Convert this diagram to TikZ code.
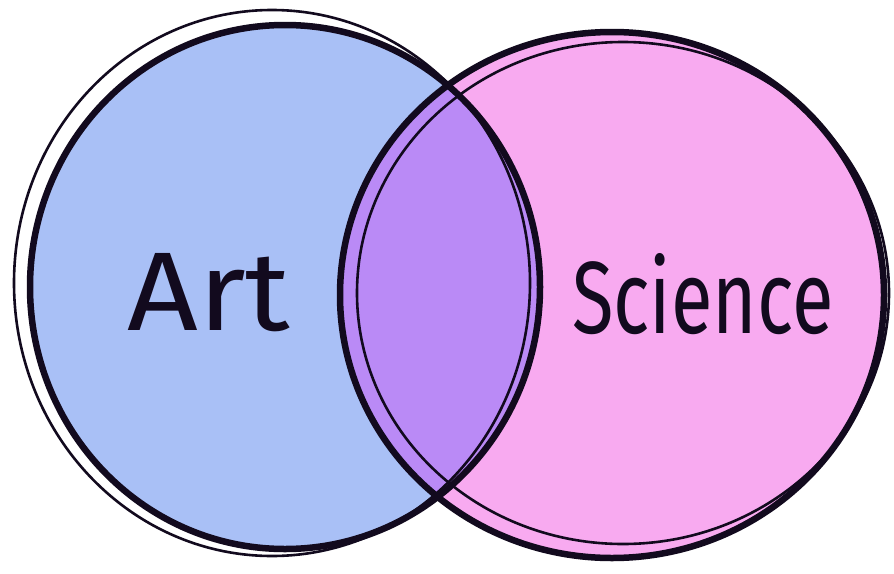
\documentclass[tikz,border=0pt]{standalone}
\usepackage{fontspec}
\setmainfont{Fira Sans}
\definecolor{artblue}{HTML}{A9C0F6}
\definecolor{scipink}{HTML}{F8AAF0}
\definecolor{mixpurple}{HTML}{BA8AF6}
\definecolor{ink}{HTML}{120A1E}
\begin{document}
\begin{tikzpicture}[x=1pt,y=-1pt,
  mainline/.style={draw=ink,line width=6.5pt},
  sketchline/.style={draw=ink,line width=2.6pt},
  lbl/.style={inner sep=0pt,anchor=base west,text=ink}]
\useasboundingbox[fill=white] (0,0) rectangle (894,573);
% fills
\fill[artblue] (285,287) ellipse [x radius=255,y radius=262];
\fill[scipink] (612,295) ellipse [x radius=272,y radius=263];
\begin{scope}
  \clip (285,287) ellipse [x radius=255,y radius=262];
  \fill[mixpurple] (612,295) ellipse [x radius=272,y radius=263];
\end{scope}
% sketchy secondary strokes
\draw[sketchline] (272,283) ellipse [x radius=258,y radius=273];
\draw[sketchline] (623,293) ellipse [x radius=266,y radius=251];
% main strokes
\draw[mainline] (285,287) ellipse [x radius=255,y radius=262];
\draw[mainline] (612,295) ellipse [x radius=272,y radius=263];
% labels
\node[lbl] (art) at (127,330) {\resizebox{163pt}{77pt}{Art}};
\node[lbl] (sci) at (572,333) {\resizebox{261pt}{80pt}{Science}};
\end{tikzpicture}
\end{document}
